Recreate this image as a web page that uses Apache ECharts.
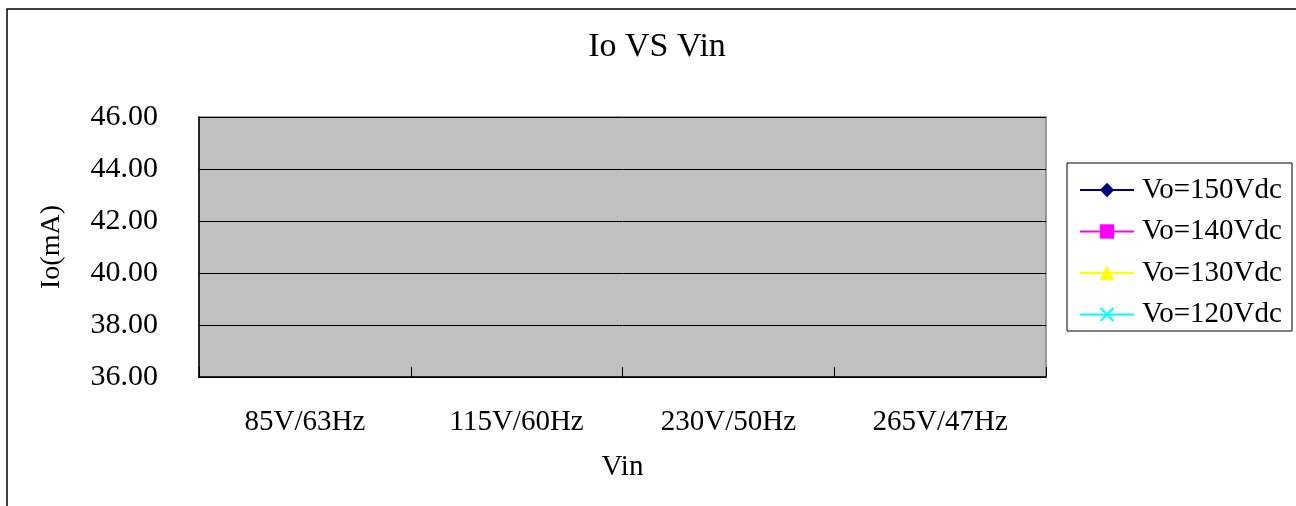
<!DOCTYPE html>
<html>
<head>
<meta charset="utf-8">
<script src="https://cdn.jsdelivr.net/npm/echarts@6/dist/echarts.min.js"></script>
<style>
  html, body { margin: 0; padding: 0; background: #fff; }
  #chart { width: 1296px; height: 506px; }
</style>
</head>
<body>
<div id="chart"></div>
<script>
// Input conditions on the category axis
const vinLabels = ['85V/63Hz', '115V/60Hz', '230V/50Hz', '265V/47Hz'];

// Output current readings (mA) per output voltage; no readings recorded
const io150 = [null, null, null, null];
const io140 = [null, null, null, null];
const io130 = [null, null, null, null];
const io120 = [null, null, null, null];

const seriesNames = ['Vo=150Vdc', 'Vo=140Vdc', 'Vo=130Vdc', 'Vo=120Vdc'];

// Y axis range in mA
const yMin = 36;
const yMax = 46;
const yStep = 2;

const FONT = 'Liberation Serif';
const crossPath = 'path://M0,1 L1,0 L5,4 L9,0 L10,1 L6,5 L10,9 L9,10 L5,6 L1,10 L0,9 L4,5 Z';

function lineSeries(name, data, color, symbol, size) {
  return {
    name: name,
    type: 'line',
    data: data,
    symbol: symbol,
    symbolSize: size,
    showAllSymbol: true,
    connectNulls: false,
    lineStyle: { color: color, width: 2 },
    itemStyle: { color: color },
    emphasis: { disabled: true }
  };
}

const chart = echarts.init(document.getElementById('chart'), null, { renderer: 'canvas' });

chart.setOption({
  animation: false,
  backgroundColor: '#ffffff',
  title: {
    text: 'Io VS Vin',
    left: 652,
    textAlign: 'center',
    top: 25,
    textStyle: { fontFamily: FONT, fontSize: 34, fontWeight: 'normal', color: '#000' }
  },
  graphic: [
    {
      type: 'rect',
      shape: { x: 7, y: 9, width: 1400, height: 600 },
      style: { fill: null, stroke: '#000', lineWidth: 1.5 },
      silent: true,
      z: 0
    },
    {
      type: 'rect',
      shape: { x: 1067, y: 163, width: 225, height: 168 },
      style: { fill: '#fff', stroke: '#000', lineWidth: 1 },
      silent: true,
      z: 0
    }
  ],
  legend: {
    orient: 'vertical',
    left: 1079,
    top: 175,
    padding: 0,
    itemWidth: 54,
    itemHeight: 18,
    itemGap: 11.5,
    selectedMode: false,
    lineStyle: { width: 2 },
    textStyle: { fontFamily: FONT, fontSize: 29, color: '#000', lineHeight: 30, padding: [0, 0, 0, 3] },
    data: seriesNames
  },
  grid: {
    left: 199,
    top: 117,
    right: 250,
    bottom: 129,
    show: true,
    backgroundColor: '#C0C0C0',
    borderColor: '#808080',
    borderWidth: 1.5
  },
  xAxis: {
    type: 'category',
    data: vinLabels,
    boundaryGap: true,
    name: 'Vin',
    nameLocation: 'middle',
    nameGap: 76,
    nameTextStyle: { fontFamily: FONT, fontSize: 29, color: '#000' },
    axisLine: { lineStyle: { color: '#000', width: 1.5 } },
    axisTick: { show: true, inside: true, length: 10, lineStyle: { color: '#000', width: 1 } },
    axisLabel: { fontFamily: FONT, fontSize: 29, color: '#000', margin: 31 },
    splitLine: { show: false }
  },
  yAxis: {
    type: 'value',
    min: yMin,
    max: yMax,
    interval: yStep,
    name: 'Io(mA)',
    nameLocation: 'middle',
    nameGap: 133,
    nameTextStyle: { fontFamily: FONT, fontSize: 28, color: '#000' },
    axisLine: { show: true, lineStyle: { color: '#000', width: 1.5 } },
    axisTick: { show: true, inside: true, length: 10, lineStyle: { color: '#000', width: 1 } },
    axisLabel: {
      fontFamily: FONT, fontSize: 30, color: '#000', margin: 41,
      formatter: function (v) { return v.toFixed(2); }
    },
    splitLine: { show: true, lineStyle: { color: '#000', width: 1 } }
  },
  series: [
    lineSeries(seriesNames[0], io150, '#000080', 'diamond', 14),
    lineSeries(seriesNames[1], io140, '#FF00FF', 'rect', 11),
    lineSeries(seriesNames[2], io130, '#FFFF00', 'triangle', 14),
    lineSeries(seriesNames[3], io120, '#00FFFF', crossPath, 13)
  ]
});
</script>
</body>
</html>
